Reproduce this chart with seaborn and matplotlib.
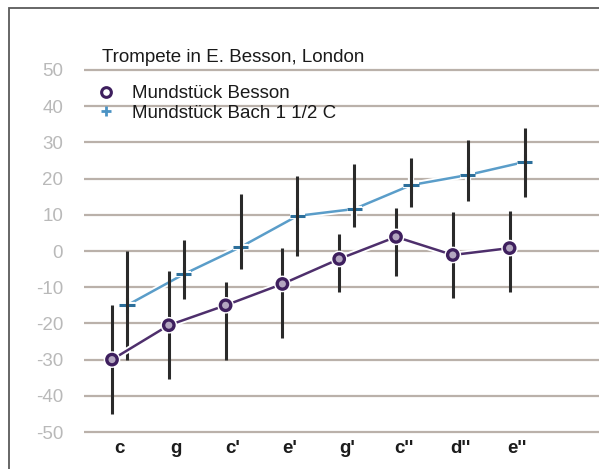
import matplotlib
matplotlib.use("Agg")
import matplotlib.pyplot as plt
import matplotlib.patheffects as pe
from matplotlib.lines import Line2D
from matplotlib.patches import Rectangle
import seaborn as sns
import pandas as pd
import numpy as np

# ---- data ----
notes = ["c", "g", "c'", "e'", "g'", "c''", "d''", "e''"]
besson_mean = [-30, -20.5, -15, -9.1, -2.2, 3.9, -1.1, 0.8]
besson_low = [-45, -35.4, -30, -24, -11.3, -6.9, -13, -11.3]
besson_high = [-15, -5.5, -8.6, 0.8, 4.7, 11.9, 10.8, 11]
bach_mean = [-15, -6.4, 1.1, 9.7, 11.6, 18.2, 21, 24.6]
bach_low = [-30, -13.3, -5, -1.4, 6.6, 12.2, 13.8, 14.9]
bach_high = [0, 3, 15.7, 20.7, 24, 25.7, 30.7, 34]
y_ticks = [-50, -40, -30, -20, -10, 0, 10, 20, 30, 40, 50]
title = "Trompete in E. Besson, London"
label_besson = "Mundstück Besson"
label_bach = "Mundstück Bach 1 1/2 C"

sns.set_style("white")
plt.rcParams["font.family"] = ["Liberation Sans", "DejaVu Sans"]

W, H = 599, 469
fig = plt.figure(figsize=(W / 100, H / 100), dpi=100)
fig.patch.set_facecolor("white")

ax_left = 84 / W
ax_bottom = (H - 434.2) / H
ax_top = (H - 67.8) / H
ax = fig.add_axes([ax_left, ax_bottom, 1 - ax_left, ax_top - ax_bottom])

pos = np.arange(len(notes))
off = 0.132
df = pd.DataFrame({
    "pos": np.concatenate([pos - off, pos + off]),
    "value": besson_mean + bach_mean,
    "low": besson_low + bach_low,
    "high": besson_high + bach_high,
    "series": [label_besson] * len(notes) + [label_bach] * len(notes),
})

purple = "#3e1f5e"
purple_line = "#4e2f6c"
blue_line = "#5a9dc9"
blue_mark = "#2c6f9b"
err_col = "#2a2a2a"

halo = [pe.Stroke(linewidth=4.5, foreground="white"), pe.Normal()]

d_bach = df[df.series == label_bach]
d_bes = df[df.series == label_besson]

sns.lineplot(data=d_bach, x="pos", y="value", ax=ax, color=blue_line, lw=1.8,
             marker="+", markersize=11, markeredgewidth=2.2, markeredgecolor=blue_mark,
             legend=False, sort=False, zorder=2, path_effects=halo)
ax.vlines(d_bach["pos"], d_bach["low"], d_bach["high"], color=err_col, lw=2.2, zorder=3)
ax.vlines(d_bes["pos"], d_bes["low"], d_bes["high"], color=err_col, lw=2.2, zorder=3)
sns.lineplot(data=d_bes, x="pos", y="value", ax=ax, color=purple_line, lw=1.8,
             marker="o", markersize=7.5, markeredgewidth=2.4, markeredgecolor=purple,
             markerfacecolor="#b3a6c0", legend=False, sort=False, zorder=4,
             path_effects=halo)

ax.set_xlim(-0.625, 8.442)
ax.set_ylim(-50.6, 50.6)
ax.set_yticks(y_ticks)
ax.set_yticklabels([str(v) for v in y_ticks])
ax.set_xticks(pos)
ax.set_xticklabels(notes)
ax.set_xlabel("")
ax.set_ylabel("")
ax.yaxis.grid(True, color="#bab1aa", lw=1.6)
ax.xaxis.grid(False)
ax.set_axisbelow(True)
for s in ax.spines.values():
    s.set_visible(False)
ax.tick_params(axis="y", length=0, pad=15, labelsize=13.5, labelcolor="#b9b9b9")
ax.tick_params(axis="x", length=0, pad=4, labelsize=13.5, labelcolor="#1c1c1c")
for t in ax.get_xticklabels():
    t.set_fontweight("bold")
ax.patch.set_alpha(0)

fig.text(102 / W, 1 - 57 / H, title, ha="left", va="center", fontsize=13.5, color="#1a1a1a")

handles = [
    Line2D([], [], ls="none", marker="o", markersize=7, markeredgewidth=2.2,
           markeredgecolor=purple, markerfacecolor="white"),
    Line2D([], [], ls="none", marker="+", markersize=7, markeredgewidth=2,
           markeredgecolor="#4b93c4"),
]
fig.legend(handles, [label_besson, label_bach], loc="upper left",
           bbox_to_anchor=(96.6 / W, 1 - 85 / H), frameon=False, fontsize=13.5,
           handlelength=1.0, handletextpad=0.89, labelspacing=0.12,
           borderpad=0, borderaxespad=0, labelcolor="#1a1a1a")

fig.patches.append(Rectangle((9 / W, -0.1), 1.2, 1 - 8 / H + 0.1, transform=fig.transFigure,
                             fill=False, ec="#5a5a5a", lw=1.3, zorder=10))

fig.savefig("out.png", dpi=100)
